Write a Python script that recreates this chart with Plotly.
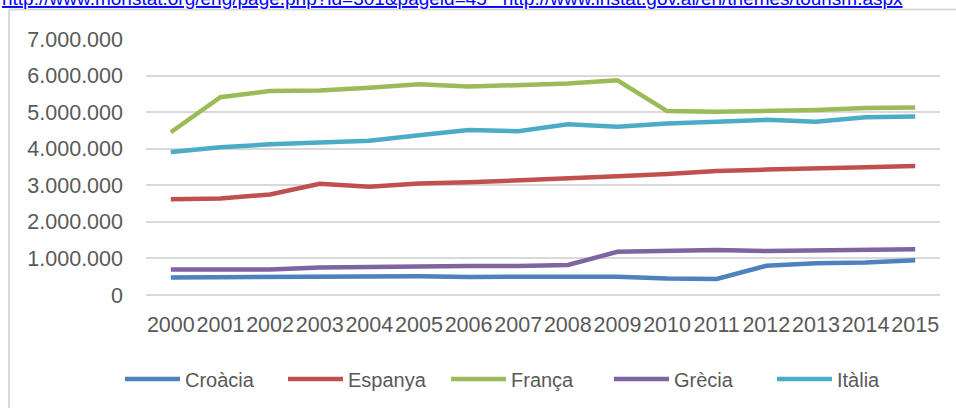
import plotly.graph_objects as go

years = [str(y) for y in range(2000, 2016)]
croacia = [480000, 490000, 490000, 495000, 505000, 510000, 495000, 495000, 495000, 500000, 450000, 440000, 800000, 870000, 890000, 950000]
espanya = [2620000, 2640000, 2750000, 3040000, 2960000, 3050000, 3080000, 3130000, 3170000, 3250000, 3310000, 3390000, 3430000, 3450000, 3490000, 3530000]
franca = [4450000, 5410000, 5580000, 5590000, 5670000, 5760000, 5700000, 5730000, 5780000, 5870000, 5030000, 5010000, 5020000, 5060000, 5110000, 5130000]
grecia = [700000, 700000, 700000, 750000, 770000, 780000, 790000, 790000, 820000, 1180000, 1220000, 1230000, 1200000, 1210000, 1240000, 1250000]
italia = [3910000, 4040000, 4120000, 4170000, 4220000, 4370000, 4510000, 4480000, 4670000, 4600000, 4690000, 4740000, 4790000, 4740000, 4860000, 4880000]

series = [
    ("Croàcia", croacia, "#4F81BD"),
    ("Espanya", espanya, "#C0504D"),
    ("França", franca, "#9BBB59"),
    ("Grècia", grecia, "#8064A2"),
    ("Itàlia", italia, "#4BACC6"),
]

W, H = 956, 408
L, R, T, B = 146, 16, 39, 113
pw, ph = W - L - R, H - T - B

def px(x):
    return (x - L) / pw

def py(y):
    return (H - B - y) / ph

fig = go.Figure()
for name, vals, color in series:
    fig.add_trace(go.Scatter(x=years, y=vals, name=name, mode="lines",
                             line=dict(color=color, width=4.5)))

font = "Liberation Sans, Arial, sans-serif"
fig.update_layout(
    template="none",
    width=W, height=H,
    margin=dict(l=L, r=R, t=T, b=B, autoexpand=False),
    paper_bgcolor="white", plot_bgcolor="white",
    separators=",.",
    font=dict(family=font, color="#595959", size=21),
    xaxis=dict(type="category", range=[-0.5, len(years) - 0.5],
               showgrid=False, zeroline=False, showline=False,
               automargin=False, ticks="", tickangle=0,
               tickfont=dict(size=21.5, color="#595959"),
               ticklabelstandoff=14),
    yaxis=dict(range=[0, 7000000], dtick=1000000, tickformat=",d",
               automargin=False,
               showgrid=True, gridcolor="#D9D9D9", gridwidth=1.5,
               zeroline=True, zerolinecolor="#D9D9D9", zerolinewidth=1.5,
               showline=False, ticks="", tickfont=dict(size=21.5, color="#595959"),
               ticklabelstandoff=22),
    legend=dict(orientation="h", x=px(120), xanchor="left", y=py(379), yanchor="middle",
                font=dict(size=20, color="#595959"), itemwidth=55,
                entrywidth=93, entrywidthmode="pixels",
                bgcolor="rgba(0,0,0,0)"),
    showlegend=True,
)

fig.add_annotation(
    text="http://www.monstat.org/eng/page.php?id=301&pageid=45   http://www.instat.gov.al/en/themes/tourism.aspx",
    xref="paper", yref="paper", x=px(0), y=py(11), xanchor="left", yanchor="bottom",
    showarrow=False, font=dict(size=19, color="#0000FF", family=font, lineposition="under"),
)

fig.add_shape(type="line", xref="paper", yref="paper", x0=px(9), x1=px(960), y0=py(9.5), y1=py(9.5),
              line=dict(color="#D9D9D9", width=2))
fig.add_shape(type="line", xref="paper", yref="paper", x0=px(9), x1=px(9), y0=py(9.5), y1=py(412),
              line=dict(color="#D9D9D9", width=2))

fig.write_html("out.html", config={"displayModeBar": False},
               post_script="document.body.style.margin='0';document.body.style.overflow='hidden';")
